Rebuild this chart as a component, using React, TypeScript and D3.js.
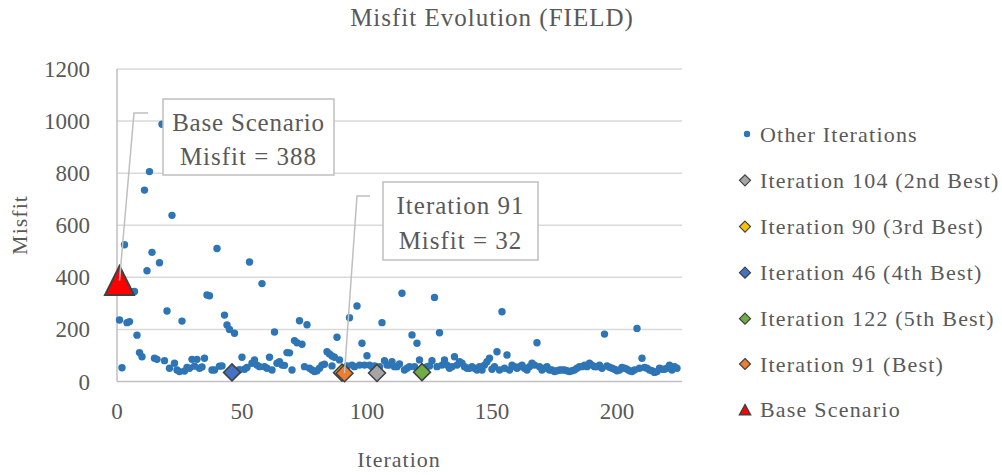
import React from 'react';
import * as d3 from 'd3';

// ---------- data ----------
const otherIter = [
  1, 2, 3, 4, 5, 6, 7, 8, 9, 10, 11, 12, 13, 14, 15, 16, 17, 18, 19, 20,
  21, 22, 23, 24, 25, 26, 27, 28, 29, 30, 31, 32, 33, 34, 35, 36, 37, 38, 39, 40,
  41, 42, 43, 44, 45, 47, 48, 49, 50, 51, 52, 53, 54, 55, 56, 57, 58, 59, 60,
  61, 62, 63, 64, 65, 66, 67, 68, 69, 70, 71, 72, 73, 74, 75, 76, 77, 78, 79, 80,
  81, 82, 83, 84, 85, 86, 86, 87, 88, 89, 92, 93, 94, 95, 96, 97, 98, 99, 100,
  101, 102, 103, 105, 106, 107, 108, 109, 110, 111, 112, 113, 114, 115, 116, 117, 118, 119, 120,
  121, 123, 124, 125, 126, 127, 128, 129, 130, 131, 132, 133, 134, 135, 136, 137, 138, 139, 140,
  141, 142, 143, 144, 145, 146, 147, 148, 149, 150, 151, 152, 153, 154, 155, 156, 157, 158, 159, 160,
  161, 162, 163, 164, 165, 166, 167, 168, 169, 170, 171, 172, 173, 174, 175, 176, 177, 178, 179, 180,
  181, 182, 183, 184, 185, 186, 187, 188, 189, 190, 191, 192, 193, 194, 195, 196, 197, 198, 199, 200,
  201, 202, 203, 204, 205, 206, 207, 208, 209, 210, 211, 212, 213, 214, 215, 216, 217, 218, 219, 220,
  221, 222, 223, 224,
];
const otherMisfit = [
  236, 53, 525, 226, 230, 345, 346, 178, 111, 95, 735, 425, 806, 496, 89, 85, 456, 988, 80, 271,
  51, 638, 70, 44, 38, 232, 40, 54, 51, 85, 59, 85, 51, 56, 89, 332, 329, 44, 44, 511,
  59, 60, 255, 217, 200, 185, 42, 45, 93, 47, 54, 459, 70, 83, 63, 57, 376, 57, 51,
  93, 44, 190, 70, 76, 63, 62, 111, 110, 44, 157, 149, 233, 143, 57, 218, 51, 44, 38, 41,
  51, 63, 66, 114, 106, 98, 60, 93, 170, 83, 60, 245, 63, 57, 290, 63, 147, 63, 99,
  63, 57, 60, 57, 226, 80, 63, 63, 76, 57, 57, 67, 339, 44, 51, 57, 179, 57, 147,
  83, 51, 57, 60, 80, 323, 57, 187, 63, 83, 63, 51, 57, 95, 63, 76, 70, 57, 51,
  51, 57, 51, 44, 57, 44, 63, 76, 89, 47, 57, 114, 44, 268, 51, 102, 44, 63, 57, 51,
  57, 63, 51, 44, 57, 70, 63, 149, 57, 44, 51, 57, 44, 44, 38, 41, 44, 44, 44, 41,
  38, 41, 44, 51, 57, 57, 63, 57, 70, 63, 57, 57, 63, 51, 182, 60, 55, 51, 47, 41,
  44, 54, 51, 47, 41, 38, 44, 204, 51, 89, 54, 51, 44, 41, 35, 38, 51, 47, 47, 51,
  63, 44, 57, 51,
];

// highlighted iterations, in drawing / legend order
const highlightLabels = [
  'Iteration 104 (2nd Best)',
  'Iteration 90 (3rd Best)',
  'Iteration 46 (4th Best)',
  'Iteration 122 (5th Best)',
  'Iteration 91 (Best)',
];
const highlightIter = [104, 90, 46, 122, 91];
const highlightMisfit = [33, 34, 35, 36, 32];
const highlightColors = ['#A5A5A5', '#FFC000', '#4472C4', '#70AD47', '#ED7D31'];

const baseIter = 1;
const baseMisfit = 388;

const xTicks = [0, 50, 100, 150, 200];
const yTicks = [0, 200, 400, 600, 800, 1000, 1200];

// ---------- component ----------
const FONT = "'Liberation Serif', 'Times New Roman', serif";
const TXT = '#595959';

export default function App() {
  const W = 1002;
  const H = 475;
  const x = d3.scaleLinear().domain([0, 226]).range([117, 682]);
  const y = d3.scaleLinear().domain([0, 1200]).range([381.5, 69]);

  const diamond = (cx: number, cy: number, s: number) =>
    `M${cx},${cy - s}L${cx + s},${cy}L${cx},${cy + s}L${cx - s},${cy}Z`;
  const triangle = (cx: number, cy: number, hw: number, hh: number) =>
    `M${cx},${cy - hh}L${cx + hw},${cy + hh}L${cx - hw},${cy + hh}Z`;

  const bx = x(baseIter);
  const by = y(baseMisfit);
  const bestIdx = highlightIter.indexOf(91);
  const px = x(highlightIter[bestIdx]);
  const py = y(highlightMisfit[bestIdx]);

  const legendRows = [134, 180.3, 226.6, 272.7, 318.7, 364, 409.7];
  const legendMarkX = 747;
  const legendTextX = 760;

  return (
    <svg
      width={W}
      height={H}
      style={{ position: 'absolute', left: 0, top: 0, background: '#fff' }}
      fontFamily={FONT}
    >
      <rect x={0} y={0} width={W} height={H} fill="#fff" />
      {/* title */}
      <text x={492} y={26} textAnchor="middle" fontSize={25} fill={TXT} letterSpacing={1}>
        Misfit Evolution (FIELD)
      </text>

      {/* gridlines */}
      {yTicks.filter((t) => t > 0).map((t) => (
        <line key={t} x1={x(0)} x2={x(226)} y1={y(t)} y2={y(t)} stroke="#D9D9D9" strokeWidth={1.5} />
      ))}
      {/* axes */}
      <line x1={x(0)} x2={x(226)} y1={y(0)} y2={y(0)} stroke="#BFBFBF" strokeWidth={1.5} />
      <line x1={x(0)} x2={x(0)} y1={y(0)} y2={y(1200)} stroke="#BFBFBF" strokeWidth={1.5} />

      {/* y tick labels */}
      {yTicks.map((t) => (
        <text key={t} x={90} y={y(t) + 8} textAnchor="end" fontSize={23} fill={TXT}>
          {t}
        </text>
      ))}
      {/* x tick labels */}
      {xTicks.map((t) => (
        <text key={t} x={x(t)} y={419} textAnchor="middle" fontSize={23} fill={TXT}>
          {t}
        </text>
      ))}
      {/* axis titles */}
      <text x={399} y={467} textAnchor="middle" fontSize={22} fill={TXT} letterSpacing={1}>
        Iteration
      </text>
      <text
        transform={`translate(27,225) rotate(-90)`}
        textAnchor="middle"
        fontSize={22}
        fill={TXT}
        letterSpacing={1}
      >
        Misfit
      </text>

      {/* other iterations */}
      {otherIter.map((it, i) => (
        <circle key={i} cx={x(it)} cy={y(otherMisfit[i])} r={3.7} fill="#2E75B6" />
      ))}

      {/* highlighted */}
      {highlightIter.map((it, i) => (
        <path
          key={it}
          d={diamond(x(it), y(highlightMisfit[i]), 8.5)}
          fill={highlightColors[i]}
          stroke="#404040"
          strokeWidth={1.5}
        />
      ))}

      {/* base scenario */}
      <path d={triangle(bx, by, 14.5, 14.5)} fill="#FF0000" stroke="#404040" strokeWidth={2} />

      {/* leader lines */}
      <polyline
        points={`${bx},${by} 134,113 148,113`}
        fill="none"
        stroke="#BFBFBF"
        strokeWidth={1.5}
      />
      <polyline
        points={`${px},${py} 357,196 370,196`}
        fill="none"
        stroke="#BFBFBF"
        strokeWidth={1.5}
      />

      {/* annotation boxes */}
      <rect x={163} y={99} width={171} height={76} fill="#fff" stroke="#BFBFBF" strokeWidth={1.5} />
      <text x={248.5} y={130.5} textAnchor="middle" fontSize={25} fill={TXT} letterSpacing={0.8}>
        Base Scenario
      </text>
      <text x={248.5} y={164.5} textAnchor="middle" fontSize={25} fill={TXT} letterSpacing={1}>
        {`Misfit = ${baseMisfit}`}
      </text>

      <rect x={383} y={182} width={155} height={78} fill="#fff" stroke="#BFBFBF" strokeWidth={1.5} />
      <text x={460.5} y={214} textAnchor="middle" fontSize={25} fill={TXT} letterSpacing={1}>
        {`Iteration ${highlightIter[bestIdx]}`}
      </text>
      <text x={460.5} y={249} textAnchor="middle" fontSize={25} fill={TXT} letterSpacing={1}>
        {`Misfit = ${highlightMisfit[bestIdx]}`}
      </text>

      {/* legend */}
      <circle cx={legendMarkX} cy={legendRows[0]} r={3.2} fill="#2E75B6" />
      <text x={legendTextX} y={legendRows[0] + 7.5} fontSize={22} fill={TXT} letterSpacing={1.2}>
        Other Iterations
      </text>
      {highlightLabels.map((lab, i) => (
        <g key={lab}>
          <path
            d={diamond(legendMarkX - 2, legendRows[i + 1], 5.5)}
            fill={highlightColors[i]}
            stroke="#404040"
            strokeWidth={1.2}
          />
          <text x={legendTextX} y={legendRows[i + 1] + 7.5} fontSize={22} fill={TXT} letterSpacing={1.2}>
            {lab}
          </text>
        </g>
      ))}
      <path
        d={triangle(legendMarkX - 2, legendRows[6], 5.5, 5)}
        fill="#FF0000"
        stroke="#404040"
        strokeWidth={1.5}
      />
      <text x={legendTextX} y={legendRows[6] + 7.5} fontSize={22} fill={TXT} letterSpacing={1.2}>
        Base Scenario
      </text>
    </svg>
  );
}
